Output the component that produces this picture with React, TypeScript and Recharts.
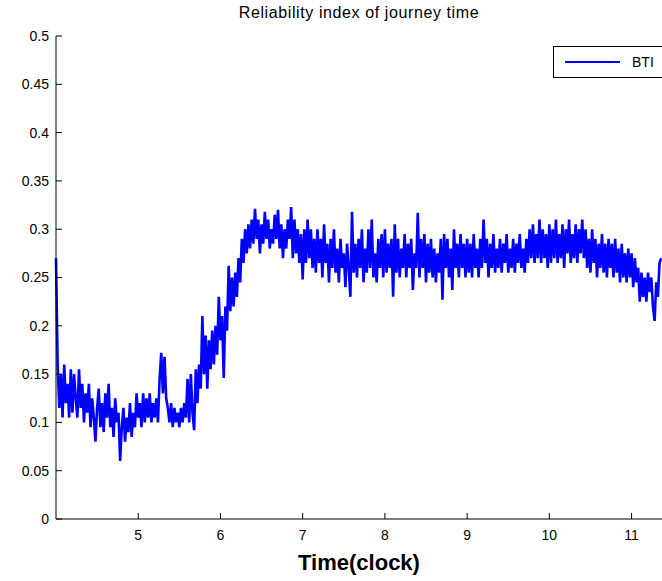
import React from "react";
import { LineChart, Line, XAxis, YAxis, Label } from "recharts";

// BTI, one value every 0.02 h (1.2 minutes)
const bti04 = [
  0.27, 0.16, 0.115, 0.15, 0.105, 0.16, 0.12, 0.14, 0.105, 0.155,
  0.11, 0.15, 0.125, 0.105, 0.155, 0.115, 0.14, 0.1, 0.13, 0.11,
  0.14, 0.095, 0.125, 0.105, 0.08, 0.115, 0.135, 0.095, 0.12, 0.09,
  0.13, 0.105, 0.14, 0.095, 0.115, 0.085, 0.125, 0.1, 0.11, 0.06,
  0.095, 0.115, 0.08, 0.105, 0.09, 0.12, 0.085, 0.11, 0.095, 0.13,
];
const bti05 = [
  0.105, 0.12, 0.095, 0.13, 0.1, 0.125, 0.105, 0.13, 0.1, 0.12,
  0.105, 0.125, 0.1, 0.145, 0.172, 0.13, 0.168, 0.125, 0.115, 0.1,
  0.12, 0.095, 0.115, 0.1, 0.11, 0.095, 0.115, 0.1, 0.12, 0.105,
  0.145, 0.1, 0.15, 0.11, 0.092, 0.155, 0.12, 0.16, 0.135, 0.21,
  0.15, 0.19, 0.135, 0.185, 0.155, 0.195, 0.16, 0.2, 0.17, 0.23,
];
const bti06 = [
  0.185, 0.21, 0.146, 0.22, 0.195, 0.262, 0.215, 0.25, 0.22, 0.255,
  0.23, 0.27, 0.245, 0.29, 0.265, 0.3, 0.275, 0.305, 0.28, 0.31,
  0.285, 0.321, 0.29, 0.31, 0.275, 0.305, 0.285, 0.318, 0.29, 0.31,
  0.28, 0.3, 0.285, 0.315, 0.29, 0.32, 0.28, 0.305, 0.27, 0.3,
  0.28, 0.31, 0.29, 0.323, 0.27, 0.31, 0.275, 0.3, 0.265, 0.295,
];
const bti07 = [
  0.248, 0.3, 0.265, 0.31, 0.27, 0.3, 0.26, 0.29, 0.255, 0.3,
  0.265, 0.29, 0.25, 0.305, 0.265, 0.285, 0.245, 0.29, 0.26, 0.3,
  0.255, 0.28, 0.245, 0.29, 0.26, 0.275, 0.24, 0.285, 0.26, 0.23,
  0.318, 0.255, 0.285, 0.25, 0.29, 0.26, 0.3, 0.245, 0.28, 0.255,
  0.3, 0.26, 0.31, 0.25, 0.275, 0.245, 0.29, 0.26, 0.295, 0.25,
];
const bti08 = [
  0.3, 0.255, 0.285, 0.26, 0.29, 0.23, 0.305, 0.255, 0.29, 0.25,
  0.28, 0.26, 0.295, 0.25, 0.285, 0.26, 0.29, 0.237, 0.275, 0.26,
  0.317, 0.25, 0.29, 0.26, 0.295, 0.245, 0.285, 0.255, 0.29, 0.25,
  0.28, 0.245, 0.275, 0.255, 0.29, 0.227, 0.295, 0.26, 0.29, 0.25,
  0.28, 0.237, 0.3, 0.26, 0.285, 0.25, 0.295, 0.26, 0.285, 0.25,
];
const bti09 = [
  0.29, 0.255, 0.285, 0.25, 0.295, 0.26, 0.28, 0.25, 0.29, 0.26,
  0.31, 0.265, 0.29, 0.25, 0.285, 0.26, 0.295, 0.255, 0.28, 0.26,
  0.29, 0.255, 0.285, 0.265, 0.295, 0.255, 0.28, 0.26, 0.29, 0.255,
  0.285, 0.265, 0.295, 0.26, 0.28, 0.255, 0.29, 0.265, 0.3, 0.27,
  0.305, 0.265, 0.295, 0.27, 0.31, 0.265, 0.3, 0.27, 0.295, 0.26,
];
const bti10 = [
  0.305, 0.265, 0.3, 0.27, 0.31, 0.265, 0.295, 0.27, 0.305, 0.26,
  0.3, 0.275, 0.31, 0.265, 0.295, 0.27, 0.305, 0.265, 0.3, 0.275,
  0.31, 0.27, 0.3, 0.26, 0.29, 0.255, 0.3, 0.265, 0.29, 0.25,
  0.285, 0.26, 0.295, 0.255, 0.285, 0.25, 0.29, 0.26, 0.285, 0.25,
  0.29, 0.255, 0.28, 0.245, 0.285, 0.25, 0.275, 0.245, 0.28, 0.25,
];
const bti11 = [
  0.275, 0.24, 0.27, 0.245, 0.26, 0.225, 0.255, 0.23, 0.25, 0.225,
  0.255, 0.235, 0.25, 0.22, 0.205, 0.245, 0.23, 0.265, 0.27,
];

const hours = [4, 5, 6, 7, 8, 9, 10, 11];
const hourly = [bti04, bti05, bti06, bti07, bti08, bti09, bti10, bti11];
const step = 0.02;

const xTicks = [5, 6, 7, 8, 9, 10, 11];
const yTicks = [0, 0.05, 0.1, 0.15, 0.2, 0.25, 0.3, 0.35, 0.4, 0.45, 0.5];

const data = hourly.flatMap((vals, h) =>
  vals.map((v, k) => ({ t: hours[h] + k * step, bti: v }))
);

const font = "'Liberation Sans', Arial, sans-serif";

const XTick = (props: any) => {
  const { x, y, payload } = props;
  return (
    <g>
      <line x1={x} y1={y - 11} x2={x} y2={y - 17} stroke="#000" />
      <text x={x} y={y} dy="0.71em" textAnchor="middle" fontSize={14} fontFamily={font} fill="#000">
        {payload.value}
      </text>
    </g>
  );
};

const TopTick = (props: any) => {
  const { x, y } = props;
  return <line x1={x} y1={y} x2={x} y2={y + 6} stroke="#000" />;
};

const YTick = (props: any) => {
  const { x, y, payload } = props;
  const label = String(Math.round(payload.value * 100) / 100);
  return (
    <g>
      <line x1={x + 7} y1={y} x2={x + 13} y2={y} stroke="#000" />
      <text x={x} y={y} dy="0.355em" textAnchor="end" fontSize={14} fontFamily={font} fill="#000">
        {label}
      </text>
    </g>
  );
};

export default function App() {
  return (
    <div style={{ position: "relative", width: 662, height: 581, overflow: "hidden", background: "#fff" }}>
      <style>{"html,body{margin:0;padding:0;overflow:hidden}"}</style>
      <div
        style={{
          position: "absolute",
          left: 56,
          width: 606,
          top: 4,
          textAlign: "center",
          fontFamily: font,
          fontSize: 16,
          letterSpacing: 0.6,
          lineHeight: "18px",
          whiteSpace: "nowrap",
        }}
      >
        Reliability index of journey time
      </div>
      <LineChart width={690} height={581} data={data} margin={{ top: 36, right: 28, bottom: 0, left: 0 }}>
        <XAxis
          dataKey="t"
          type="number"
          domain={[4, 11.37]}
          ticks={xTicks}
          tickSize={0}
          tickMargin={11}
          tick={<XTick />}
          height={62}
          axisLine={{ stroke: "#000" }}
          interval={0}
        >
          <Label
            value="Time(clock)"
            position="insideBottom"
            offset={11}
            style={{ fontFamily: font, fontSize: 22, fontWeight: "bold", fill: "#000" }}
          />
        </XAxis>
        <XAxis
          xAxisId="top"
          orientation="top"
          dataKey="t"
          type="number"
          domain={[4, 11.37]}
          ticks={xTicks}
          tickSize={0}
          tickMargin={0}
          tick={<TopTick />}
          height={0}
          axisLine={{ stroke: "#000" }}
          interval={0}
        />
        <YAxis
          type="number"
          domain={[0, 0.5]}
          ticks={yTicks}
          tickSize={0}
          tickMargin={7}
          tick={<YTick />}
          width={56}
          axisLine={{ stroke: "#000" }}
          interval={0}
        />
        <Line
          type="linear"
          dataKey="bti"
          stroke="#0000ff"
          strokeWidth={2.6}
          dot={false}
          isAnimationActive={false}
        />
      </LineChart>
      <div
        style={{
          position: "absolute",
          left: 553,
          top: 46,
          width: 120,
          height: 30,
          border: "1px solid #000",
          background: "#fff",
          display: "flex",
          alignItems: "center",
          fontFamily: font,
          fontSize: 14,
        }}
      >
        <span style={{ display: "inline-block", marginLeft: 11, width: 55, height: 0, borderTop: "2.5px solid #0000ff" }} />
        <span style={{ marginLeft: 12 }}>BTI</span>
      </div>
    </div>
  );
}
